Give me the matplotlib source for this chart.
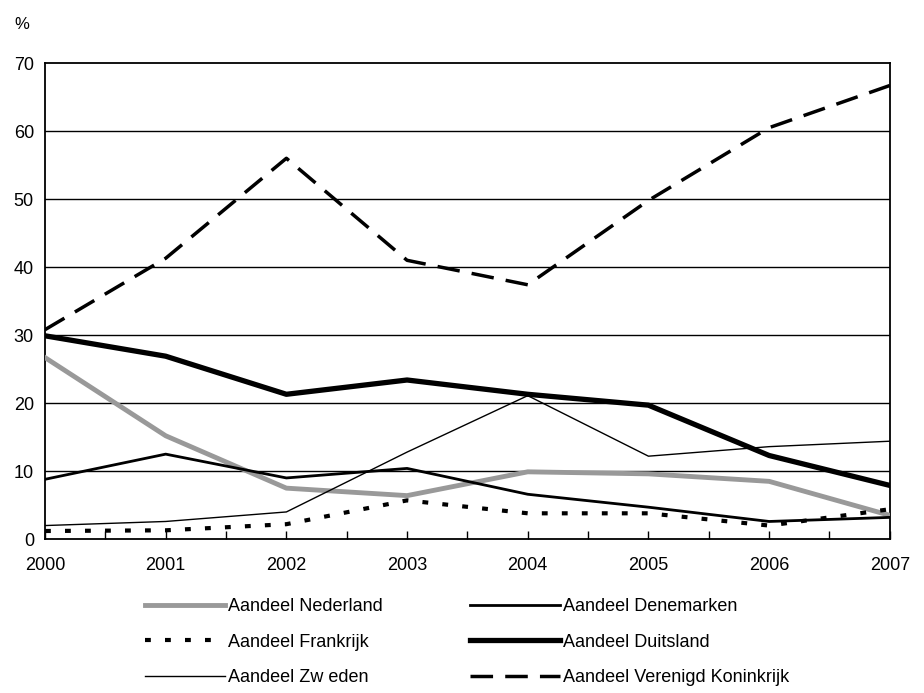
import matplotlib
matplotlib.use('Agg')
import matplotlib.pyplot as plt
import numpy as np

years = [2000, 2001, 2002, 2003, 2004, 2005, 2006, 2007]
nederland = [26.7, 15.2, 7.5, 6.4, 9.9, 9.6, 8.5, 3.5]
denemarken = [8.8, 12.5, 9.0, 10.4, 6.6, 4.7, 2.6, 3.2]
frankrijk = [1.2, 1.3, 2.2, 5.7, 3.8, 3.8, 2.0, 4.4]
duitsland = [29.9, 26.9, 21.3, 23.4, 21.3, 19.7, 12.3, 7.9]
zweden = [2.0, 2.6, 4.0, 12.8, 21.1, 12.2, 13.6, 14.4]
vk = [30.8, 41.3, 56.0, 41.0, 37.4, 49.8, 60.5, 66.7]

plt.rcParams['font.family'] = ['Liberation Sans', 'DejaVu Sans']

fig = plt.figure(figsize=(9.24, 6.93), dpi=100)
ax = fig.add_axes([0.0487, 0.222, 0.9143, 0.687])

for y in range(10, 70, 10):
    ax.axhline(y, color='black', lw=1, zorder=1)

l_ned, = ax.plot(years, nederland, color='#999999', lw=3.5, label='Aandeel Nederland', zorder=3)
l_fra, = ax.plot(years, frankrijk, color='black', lw=3, dashes=(1.4, 3.4),
                 dash_capstyle='butt', label='Aandeel Frankrijk', zorder=3)
l_zwe, = ax.plot(years, zweden, color='black', lw=1, label='Aandeel Zw eden', zorder=3)
l_den, = ax.plot(years, denemarken, color='black', lw=2, label='Aandeel Denemarken', zorder=3)
l_dui, = ax.plot(years, duitsland, color='black', lw=3.8, label='Aandeel Duitsland', zorder=3)
l_vk, = ax.plot(years, vk, color='black', lw=2.5, dashes=(6.5, 3.5),
                dash_capstyle='butt', label='Aandeel Verenigd Koninkrijk', zorder=3)

ax.set_xlim(2000, 2007)
ax.set_ylim(0, 70)
ax.set_yticks(range(0, 80, 10))
ax.set_xticks(years)
ax.set_xticks(np.arange(2000.5, 2007, 1), minor=True)
ax.tick_params(axis='x', which='both', direction='in', length=6, width=1, labelsize=13, pad=13)
ax.tick_params(axis='y', length=0, labelsize=13, pad=8)
for s in ax.spines.values():
    s.set_linewidth(1.3)

fig.text(0.016, 0.965, '%', fontsize=12, va='center')

# two legend columns, placed separately
leg_kw = dict(frameon=False, loc='upper left', fontsize=13, borderpad=0,
              borderaxespad=0, handletextpad=0.17, labelspacing=1.03)
leg1 = fig.legend(handles=[l_ned, l_fra, l_zwe], bbox_to_anchor=(0.157, 0.137),
                  handlelength=4.4, **leg_kw)
leg2 = fig.legend(handles=[l_den, l_dui, l_vk], bbox_to_anchor=(0.5087, 0.137),
                  handlelength=5.0, **leg_kw)

fig.savefig('out.png', dpi=100)
